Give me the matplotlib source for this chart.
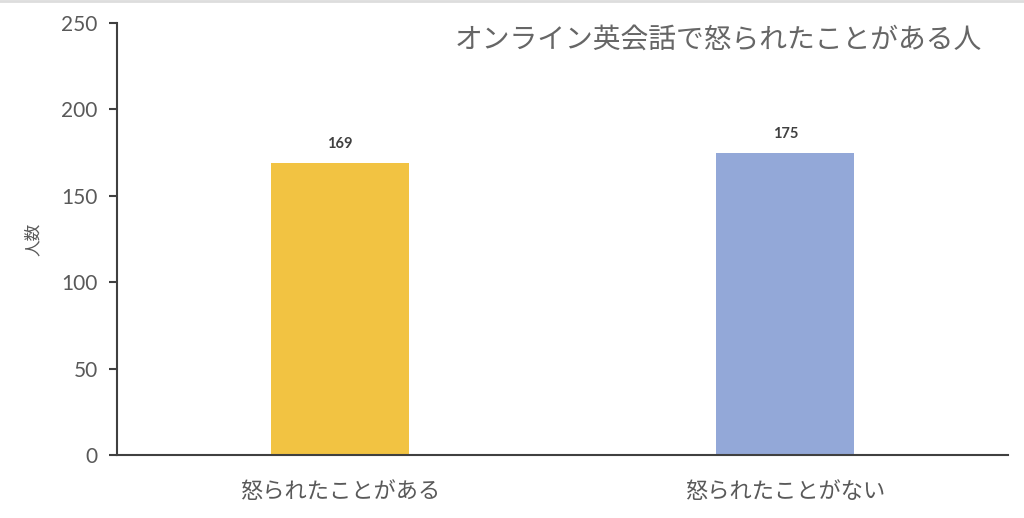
import matplotlib
matplotlib.use("Agg")
import matplotlib.pyplot as plt
from matplotlib.lines import Line2D

plt.rcParams['font.family'] = ['Noto Sans CJK JP', 'DejaVu Sans']

# Data
categories = ["怒られたことがある", "怒られたことがない"]
counts = [169, 175]
colors = ["#F2C342", "#93A8D8"]
title = "オンライン英会話で怒られたことがある人"

text_color = "#595959"
axis_color = "#404040"

fig = plt.figure(figsize=(10.24, 5.18), dpi=100)
ax = fig.add_axes([117/1024, 1 - 455/518, (1008-117)/1024, (455-23)/518])

x = range(len(categories))
bars = ax.bar(x, counts, width=0.31, color=colors)

for b, v in zip(bars, counts):
    ax.text(b.get_x() + b.get_width()/2, v + 7, str(v), ha='center', va='bottom',
            fontsize=10.5, color="#404040", fontweight='bold', family='Lato')

ax.set_xlim(-0.5, 1.5)
ax.set_ylim(0, 250)
ax.set_yticks(range(0, 251, 50))
ax.set_xticks(list(x))
ax.set_xticklabels(categories, fontsize=16, color=text_color)
ax.tick_params(axis='x', length=0, pad=18)
ax.tick_params(axis='y', length=6, width=1.5, color=axis_color, labelsize=15,
               labelcolor=text_color, pad=8)
for lbl in ax.get_yticklabels():
    lbl.set_family('Lato')

for s in ['top', 'right']:
    ax.spines[s].set_visible(False)
for s in ['left', 'bottom']:
    ax.spines[s].set_color(axis_color)
    ax.spines[s].set_linewidth(1.5)

ax.set_ylabel("人数", fontsize=12, color=text_color, labelpad=14)

fig.text(455/1024, 1 - 40/518, title, fontsize=20, color="#666666", ha='left', va='center')

# thin top border
fig.add_artist(Line2D([0, 1], [0.998, 0.998], transform=fig.transFigure, color="#dddddd", lw=2))

fig.savefig("out.png", dpi=100)
